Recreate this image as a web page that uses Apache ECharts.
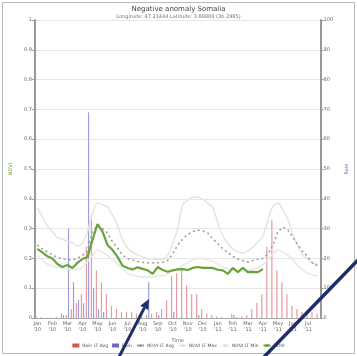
<!DOCTYPE html>
<html>
<head>
<meta charset="utf-8">
<script src="https://cdn.jsdelivr.net/npm/echarts@6/dist/echarts.min.js"></script>
<style>html,body{margin:0;padding:0;background:#fff}#c{width:357px;height:356px}</style>
</head>
<body>
<div id="c"></div>
<script>
const tickLabels = ["Jan\n'10","Feb\n'10","Mar\n'10","Apr\n'10","May\n'10","Jun\n'10","Jul\n'10","Aug\n'10","Sep\n'10","Oct\n'10","Nov\n'10","Dec\n'10","Jan\n'11","Feb\n'11","Mar\n'11","Apr\n'11","May\n'11","Jun\n'11","Jul\n'11"];
const dekadNames = ['1','2','3'];
const rainLtAvg = [0.5,0.3,0.2, 0.2,0.3,1.5, 1,3,5, 8,24,33, 16,12,8, 4,3,2, 2,2,1.5, 1.5,1,1.5, 2,3,6, 14,15,16, 11,8,8, 3,1.5,1,
                   0.5,0.3,0.2, 1.5,0.3,0.5, 1,3,5, 8,24,33, 16,12,8, 4,3,2, 2,2,1.5];
const rain = [0,0,0, 0,0,1, 30,12,6, 5,69,10, 3,2,0, 0,0,0, 0,0,0, 0,12,0, 1,0,0, 2,0,0, 0,0,1, 0,0,0,
              0,0,0, 1,0,0, 0,0,0, 0,null,null, null,null,null, null,null,null, null,null,null];
const ndvi = [0.232,0.22,0.207, 0.2,0.181,0.171, 0.178,0.168,0.185, 0.198,0.205,0.262, 0.315,0.29,0.245, 0.228,0.205,0.175,
              0.168,0.163,0.17, 0.165,0.16,0.148, 0.171,0.161,0.155, 0.16,0.163,0.164, 0.161,0.168,0.171, 0.168,0.168,0.168,
              0.162,0.16,0.148, 0.168,0.154,0.168, 0.154,0.155,0.154, 0.164,null,null, null,null,null, null,null,null, null,null,null];
const ndviLtAvg = [0.245,0.232,0.222, 0.212,0.203,0.198, 0.196,0.195,0.2, 0.21,0.225,0.29, 0.31,0.3,0.285, 0.255,0.235,0.21,
                   0.2,0.195,0.19, 0.187,0.185,0.185, 0.185,0.187,0.193, 0.215,0.245,0.265, 0.28,0.29,0.295, 0.292,0.285,0.265,
                   0.25,0.232,0.22, 0.207,0.198,0.192, 0.188,0.193,0.197, 0.2,0.215,0.245, 0.29,0.305,0.295, 0.27,0.245,0.222, 0.205,0.182,0.175];
const ndviLtMax = [0.37,0.34,0.31, 0.29,0.27,0.265, 0.258,0.252,0.242, 0.25,0.29,0.35, 0.386,0.38,0.372, 0.345,0.31,0.262,
                   0.235,0.22,0.212, 0.205,0.2,0.198, 0.196,0.197,0.21, 0.25,0.3,0.38, 0.395,0.405,0.405, 0.398,0.385,0.37,
                   0.32,0.275,0.25, 0.232,0.222,0.218, 0.225,0.238,0.255, 0.275,0.33,0.375, 0.386,0.36,0.33, 0.28,0.24,0.21, 0.195,0.185,0.18];
const ndviLtMin = [0.21,0.195,0.18, 0.175,0.17,0.168, 0.165,0.162,0.163, 0.17,0.19,0.21, 0.228,0.22,0.21, 0.195,0.18,0.165,
                   0.15,0.144,0.14, 0.138,0.138,0.138, 0.14,0.142,0.148, 0.158,0.165,0.178, 0.185,0.195,0.2, 0.2,0.195,0.19,
                   0.18,0.172,0.165, 0.16,0.158,0.158, 0.16,0.165,0.17, 0.18,0.195,0.215, 0.228,0.22,0.21, 0.195,0.175,0.16, 0.15,0.145,0.14];
const leftTicks = {min:0, max:1, interval:0.1};
const rightTicks = {min:0, max:100, interval:10};

const categories = [];
tickLabels.forEach(t => dekadNames.forEach(d => categories.push(t.replace('\n',' ') + ' d' + d)));

const FONT = 'DejaVu Sans';
const txt = {fontSize:5, color:'#666', fontFamily:FONT};

const chart = echarts.init(document.getElementById('c'), null, {renderer:'canvas'});
chart.setOption({
  animation:false,
  backgroundColor:'#fff',
  title:{
    text:'Negative anomaly Somalia',
    subtext:'Longitude: 47.21444 Latitude: 3.88889 (3b 2985)',
    left:'center', top:1, itemGap:1,
    textStyle:{fontSize:7, color:'#444', fontWeight:'normal', fontFamily:FONT},
    subtextStyle:{fontSize:5, color:'#777', fontFamily:FONT}
  },
  grid:{left:32, right:19, top:20, bottom:38},
  legend:{
    bottom:3, left:'center', itemWidth:7, itemHeight:4, itemGap:4,
    textStyle:{fontSize:4.5, color:'#555', fontFamily:FONT, padding:[0,0,0,-2]},
    data:[
      {name:'Rain LT Avg', icon:'rect', itemStyle:{color:'#d9534f'}},
      {name:'Rain', icon:'rect', itemStyle:{color:'#6b6bc4'}},
      {name:'NDVI LT Avg'},
      {name:'NDVI LT Max'},
      {name:'NDVI LT Min'},
      {name:'NDVI'}
    ]
  },
  xAxis:{
    type:'category', data:categories, boundaryGap:true,
    name:'Time', nameLocation:'middle', nameGap:15,
    nameTextStyle:{fontSize:5, color:'#666', fontFamily:FONT},
    axisLine:{lineStyle:{color:'#aaa', width:1}},
    axisTick:{interval:0, length:2, lineStyle:{color:'#aaa'}},
    axisLabel:{interval:(i)=> i % 3 === 0, formatter:(v,i)=> tickLabels[Math.floor(i/3)], fontSize:5, color:'#666', fontFamily:FONT, margin:3, lineHeight:6}
  },
  yAxis:[
    {type:'value', min:leftTicks.min, max:leftTicks.max, interval:leftTicks.interval,
     name:'NDVI', nameLocation:'middle', nameGap:14,
     nameTextStyle:{fontSize:5, color:'#6a9f3a', fontFamily:FONT},
     axisLine:{show:true, lineStyle:{color:'#999', width:2}},
     axisTick:{show:true, length:3, lineStyle:{color:'#999'}},
     axisLabel:{formatter:(v)=> +v.toFixed(1) + '', ...txt, margin:3},
     splitLine:{lineStyle:{color:'#e6e6e6', width:1}}},
    {type:'value', min:rightTicks.min, max:rightTicks.max, interval:rightTicks.interval,
     name:'Rain', nameLocation:'middle', nameGap:20,
     nameTextStyle:{fontSize:5, color:'#6b6bc4', fontFamily:FONT},
     axisLine:{show:true, lineStyle:{color:'#999', width:2}},
     axisTick:{show:true, length:3, lineStyle:{color:'#999'}},
     axisLabel:{...txt, margin:3},
     splitLine:{show:false}}
  ],
  series:[
    {name:'Rain LT Avg', type:'bar', yAxisIndex:1, data:rainLtAvg, barWidth:1.2, barGap:'80%',
     itemStyle:{color:'#e79aa2'}, z:1},
    {name:'Rain', type:'bar', yAxisIndex:1, data:rain, barWidth:1.2,
     itemStyle:{color:'#9d9de0'}, z:1},
    {name:'NDVI LT Avg', type:'line', data:ndviLtAvg, showSymbol:false, symbol:'none',
     lineStyle:{color:'#9a9a9a', width:1.5, type:[2,3]}, itemStyle:{color:'#9a9a9a'}, z:3},
    {name:'NDVI LT Max', type:'line', data:ndviLtMax, showSymbol:false, symbol:'none', smooth:0.3,
     lineStyle:{color:'#e2e7dc', width:1.5}, itemStyle:{color:'#dde3d6'}, z:2},
    {name:'NDVI LT Min', type:'line', data:ndviLtMin, showSymbol:false, symbol:'none', smooth:0.3,
     lineStyle:{color:'#e6eae2', width:1.5}, itemStyle:{color:'#dde3d6'}, z:2},
    {name:'NDVI', type:'line', data:ndvi, showSymbol:false, symbol:'none',
     lineStyle:{color:'#6aa23c', width:2.2}, itemStyle:{color:'#6aa23c'}, z:4}
  ],
  graphic:[
    {type:'rect', shape:{x:2.5, y:2.5, width:352, height:351}, style:{fill:'none', stroke:'#bbb', lineWidth:1}, z:100},
    {type:'line', shape:{x1:119, y1:357, x2:144.3, y2:307.9}, style:{stroke:'#1f2d6b', lineWidth:3}, z:101},
    {type:'polygon', shape:{points:[[149,299],[148.3,310.0],[140.3,305.8]]}, style:{fill:'#1f2d6b'}, z:101},
    {type:'line', shape:{x1:263, y1:358, x2:360, y2:258}, style:{stroke:'#1f2d6b', lineWidth:3.5}, z:101}
  ]
});
</script>
</body>
</html>
